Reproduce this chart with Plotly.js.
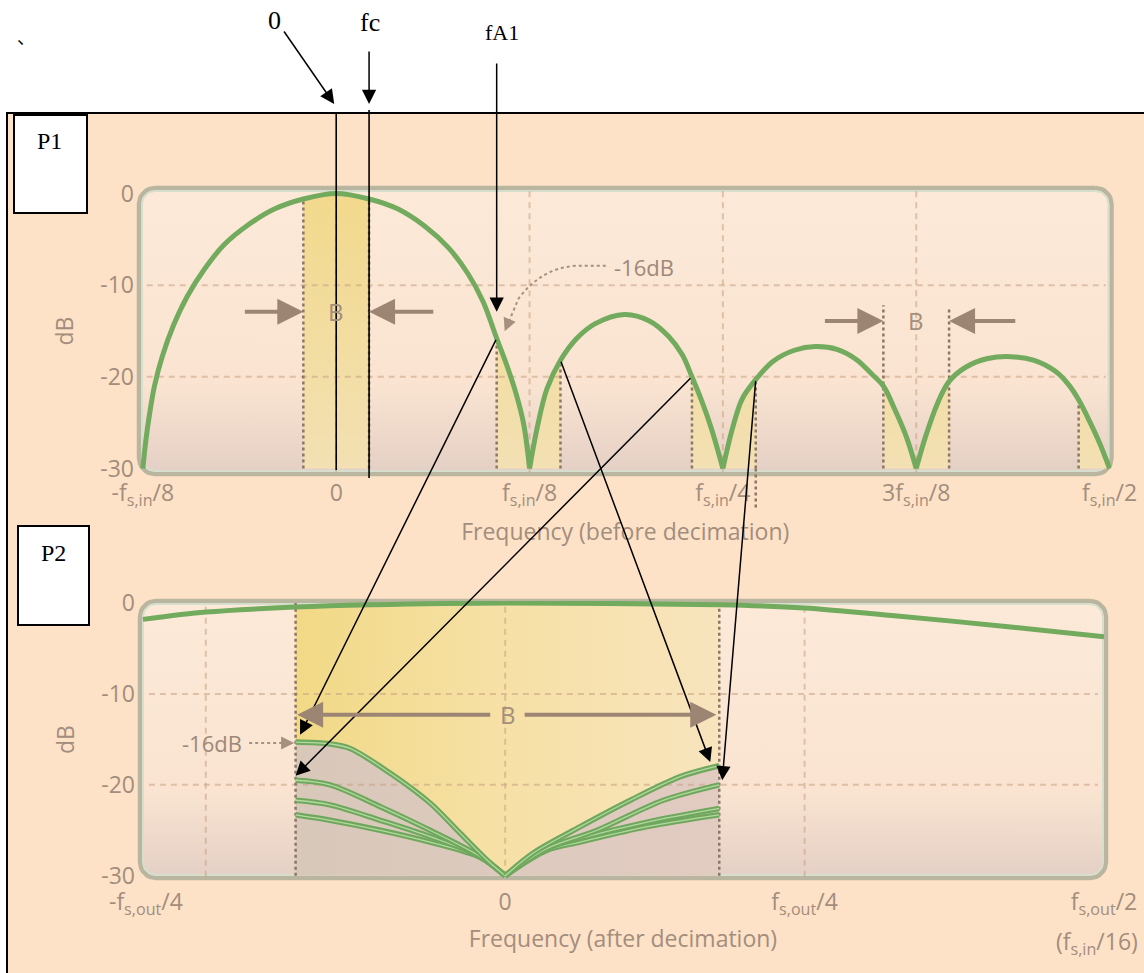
<!DOCTYPE html>
<html><head><meta charset="utf-8">
<script src="https://cdn.plot.ly/plotly-3.0.1.min.js"></script>
<style>html,body{margin:0;padding:0;background:#fff}#chart{width:1144px;height:973px}</style>
</head><body><div id="chart"></div>
<script>
// ================= DATA =================
// P1 : before decimation, x in units of f_s,in/8, y in dB
const p1TickVals = [-1, 0, 1, 2, 3, 4];
const p1TickText = ['-f<sub>s,in</sub>/8', '0', 'f<sub>s,in</sub>/8', 'f<sub>s,in</sub>/4', '3f<sub>s,in</sub>/8', 'f<sub>s,in</sub>/2'];
const dbTickVals = [0, -10, -20, -30];
const dbTickText = ['0', '-10', '-20', '-30'];
const p1GridX = [0, 1, 2, 3];
const gridDb = [-10, -20];
const p1Freq = [-1.00, -0.985, -0.965, -0.94, -0.90, -0.84, -0.77, -0.68, -0.58, -0.46, -0.32, -0.17, 0.00,
                0.17, 0.32, 0.46, 0.58, 0.68, 0.76, 0.83, 0.88, 0.93, 0.97, 1.00,
                1.04, 1.09, 1.16, 1.24, 1.34, 1.49, 1.62, 1.72, 1.79, 1.84, 1.89, 1.94, 2.00,
                2.05, 2.10, 2.17, 2.26, 2.37, 2.48, 2.59, 2.69, 2.77, 2.83, 2.89, 2.95, 3.00,
                3.05, 3.11, 3.17, 3.26, 3.37, 3.49, 3.61, 3.72, 3.79, 3.84, 3.90, 3.95, 4.00];
const p1Db =   [-30, -27, -24, -21, -17.8, -14.3, -11.2, -8.2, -5.6, -3.5, -1.7, -0.6, 0,
                -0.6, -1.7, -3.6, -5.9, -8.7, -11.8, -15.8, -18.6, -21.8, -25.2, -30,
                -25.5, -21.3, -18.2, -15.9, -14.2, -13.2, -13.9, -15.6, -17.6, -20.0, -22.6, -25.6, -30,
                -25.6, -22.4, -20.3, -18.3, -17.1, -16.7, -17.0, -18.1, -19.7, -21.0, -23.6, -26.6, -30,
                -26.4, -22.9, -20.5, -18.9, -18.0, -17.8, -18.2, -19.4, -20.9, -22.5, -25.0, -27.3, -30];
const p1BandLo = [-0.17, 0.83, 1.84, 2.83, 3.84];
const p1BandHi = [0.17, 1.16, 2.17, 3.17, 4.00];
const p1EdgeTopLo = [-0.6, -15.8, -20.0, -12.2, -22.5];
const p1EdgeTopHi = [-0.6, -18.2, -20.3, -12.5, null];
const p1BArrowDb = [-12.9, -13.9];
const p1BArrowTail = [[-0.48, 0.51], [2.52, 3.52]];
const p1BLabelX = [0, 3];

// P2 : after decimation, x in units of f_s,out/4, y in dB
const p2TickVals = [-1.2, 0, 1, 2];
const p2TickText = ['-f<sub>s,out</sub>/4', '0', 'f<sub>s,out</sub>/4', 'f<sub>s,out</sub>/2'];
const p2ExtraLabel = '(f<sub>s,in</sub>/16)';
const p2GridX = [-1, 0, 1];
const p2TopFreq = [-1.21, -1.0, -0.70, -0.45, 0, 0.715, 1.0, 1.3, 1.68, 2.0];
const p2TopDb   = [-1.8, -1.0, -0.45, -0.2, 0, -0.2, -0.55, -1.4, -2.6, -3.7];
const p2BandLo = -0.70, p2BandHi = 0.715;
const alias1Freq = [-0.70, -0.585, -0.518, -0.385, -0.251, -0.151, -0.06, 0, 0.094, 0.251, 0.418, 0.585, 0.715];
const alias1Db   = [-15.3, -15.5, -16.0, -18.7, -22.0, -25.3, -28.3, -30, -27.5, -24.6, -21.7, -19.1, -17.9];
const alias2Freq = [-0.70, -0.585, -0.417, -0.251, -0.083, 0, 0.14, 0.307, 0.528, 0.715];
const alias2Db   = [-19.5, -20.0, -22.4, -25.0, -27.9, -30, -27.0, -25.0, -21.7, -20.0];
const alias3Freq = [-0.70, -0.585, -0.417, -0.251, -0.083, 0, 0.14, 0.25, 0.474, 0.715];
const alias3Db   = [-21.7, -22.2, -23.9, -25.7, -27.9, -30, -27.0, -25.9, -24.1, -22.6];
const alias4Freq = [-0.70, -0.585, -0.417, -0.251, -0.083, 0, 0.14, 0.25, 0.474, 0.715];
const alias4Db   = [-23.3, -23.9, -25.0, -26.3, -28.0, -30, -27.2, -26.3, -24.6, -23.3];
const p2BArrowDb = -12.3;
const p2LabelDb = -15.4;

// ================= GEOMETRY / STYLE =================
const W = 1144, H = 973;
const fx = p => p / W, fy = p => 1 - p / H;
const P1 = {x0: 139, x1: 1111.5, y0: 188, y1: 474, xr: [-1.02, 4.01], yr: [-30.6, 0.6]};
const P2 = {x0: 140, x1: 1106, y0: 601, y1: 878, xr: [-1.2197, 2.0067], yr: [-30.25, 0.22]};
function toPx(P, u, d) {
  return [P.x0 + (u - P.xr[0]) / (P.xr[1] - P.xr[0]) * (P.x1 - P.x0),
          P.y1 - (d - P.yr[0]) / (P.yr[1] - P.yr[0]) * (P.y1 - P.y0)];
}
const GREEN = '#72aa5e', BROWN = '#9d8574', TXT = '#a38d7d', DOT = '#8c7666';
const GRIDC = 'rgba(200,160,128,0.55)';
const FONT = 'Open Sans, Noto Sans, sans-serif';
const SERIF = 'Liberation Serif, Times New Roman, serif';

function roundRect(x0, y0, x1, y1, r) {
  const xs = [], ys = [];
  const c = [[x1 - r, y0 + r, -90, 0], [x1 - r, y1 - r, 0, 90], [x0 + r, y1 - r, 90, 180], [x0 + r, y0 + r, 180, 270]];
  c.forEach(([cx, cy, a0, a1]) => {
    for (let k = 0; k <= 8; k++) {
      const a = (a0 + (a1 - a0) * k / 8) * Math.PI / 180;
      xs.push(cx + r * Math.cos(a)); ys.push(cy + r * Math.sin(a));
    }
  });
  xs.push(xs[0]); ys.push(ys[0]);
  return {xs, ys};
}
function splitAtFloor(xs, ys, floor) {
  const segs = []; let cur = {x: [], y: []};
  for (let i = 0; i < xs.length; i++) {
    cur.x.push(xs[i]); cur.y.push(ys[i]);
    if (ys[i] === floor && i > 0 && i < xs.length - 1) { segs.push(cur); cur = {x: [xs[i]], y: [ys[i]]}; }
  }
  segs.push(cur); return segs;
}

const traces = [];
// ---- background boxes (pixel canvas subplot) ----
[P1, P2].forEach(P => {
  const rr = roundRect(P.x0, P.y0, P.x1, P.y1, 16);
  traces.push({x: rr.xs, y: rr.ys, xaxis: 'x', yaxis: 'y', mode: 'lines', fill: 'toself', line: {width: 0},
    fillcolor: '#fae5d3',
    fillgradient: {type: 'vertical', start: P.y0, stop: P.y1, colorscale: [[0, '#fce9d8'], [0.68, '#fae4d1'], [1, '#e4cfc5']]},
    hoverinfo: 'skip', showlegend: false});
});
[P1, P2].forEach(P => {
  const o = roundRect(P.x0, P.y0, P.x1, P.y1, 16);
  traces.push({x: o.xs, y: o.ys, xaxis: 'x', yaxis: 'y', mode: 'lines', line: {color: '#bab59f', width: 4.5}, hoverinfo: 'skip', showlegend: false});
  const i = roundRect(P.x0 + 3, P.y0 + 3, P.x1 - 3, P.y1 - 3, 13);
  traces.push({x: i.xs, y: i.ys, xaxis: 'x', yaxis: 'y', mode: 'lines', line: {color: '#d6dfcd', width: 2}, hoverinfo: 'skip', showlegend: false});
});

// ---- P1 ----
p1BandLo.forEach((lo, b) => {
  const hi = p1BandHi[b];
  const bx = [], by = [];
  p1Freq.forEach((u, k) => { if (u >= lo - 1e-9 && u <= hi + 1e-9) { bx.push(u); by.push(p1Db[k]); } });
  bx.push(hi, lo); by.push(-30, -30);
  traces.push({x: bx, y: by, xaxis: 'x2', yaxis: 'y2', mode: 'lines', fill: 'toself', line: {width: 0},
    fillcolor: '#f3dd9c',
    fillgradient: {type: 'vertical', start: -30, stop: 0, colorscale: [[0, '#f3e0b3'], [1, '#f2d98c']]},
    hoverinfo: 'skip', showlegend: false});
});
(function () {
  const gx = [], gy = [];
  p1GridX.forEach(g => { gx.push(g, g, null); gy.push(-30.4, 0.4, null); });
  gridDb.forEach(g => { gx.push(-0.98, 3.98, null); gy.push(g, g, null); });
  traces.push({x: gx, y: gy, xaxis: 'x2', yaxis: 'y2', mode: 'lines', line: {color: GRIDC, width: 2, dash: '6px,5px'}, hoverinfo: 'skip', showlegend: false});
  const ex = [], ey = [];
  p1BandLo.forEach((lo, b) => {
    ex.push(lo, lo, null); ey.push(-30, p1EdgeTopLo[b], null);
    if (p1EdgeTopHi[b] !== null) { ex.push(p1BandHi[b], p1BandHi[b], null); ey.push(-30, p1EdgeTopHi[b], null); }
  });
  traces.push({x: ex, y: ey, xaxis: 'x2', yaxis: 'y2', mode: 'lines', line: {color: DOT, width: 2.5, dash: 'dot'}, hoverinfo: 'skip', showlegend: false});
})();
splitAtFloor(p1Freq, p1Db, -30).forEach(s => {
  traces.push({x: s.x, y: s.y, xaxis: 'x2', yaxis: 'y2', mode: 'lines', line: {color: GREEN, width: 5, shape: 'spline', smoothing: 1}, hoverinfo: 'skip', showlegend: false});
});

// ---- P2 ----
(function () {
  traces.push({x: [p2BandLo].concat(alias1Freq, [p2BandHi]), y: [-30].concat(alias1Db, [-30]), xaxis: 'x3', yaxis: 'y3',
    mode: 'lines', fill: 'toself', line: {width: 0}, fillcolor: '#dccabd',
    fillgradient: {type: 'horizontal', start: p2BandLo, stop: p2BandHi, colorscale: [[0, '#d8c8ba'], [1, '#e2cbc1']]},
    hoverinfo: 'skip', showlegend: false});
  const yx = [], yy = [];
  p2TopFreq.forEach((u, k) => { if (u >= p2BandLo - 1e-9 && u <= p2BandHi + 1e-9) { yx.push(u); yy.push(p2TopDb[k]); } });
  for (let k = alias1Freq.length - 1; k >= 0; k--) { yx.push(alias1Freq[k]); yy.push(alias1Db[k]); }
  traces.push({x: yx, y: yy, xaxis: 'x3', yaxis: 'y3', mode: 'lines', fill: 'toself', line: {width: 0}, fillcolor: '#f5df9f',
    fillgradient: {type: 'horizontal', start: p2BandLo, stop: p2BandHi, colorscale: [[0, '#f1d986'], [0.45, '#f6e0a4'], [1, '#f8e4bd']]},
    hoverinfo: 'skip', showlegend: false});
  const gx = [], gy = [];
  p2GridX.forEach(g => { gx.push(g, g, null); gy.push(-30.1, 0.1, null); });
  gridDb.forEach(g => { gx.push(-1.19, 1.98, null); gy.push(g, g, null); });
  traces.push({x: gx, y: gy, xaxis: 'x3', yaxis: 'y3', mode: 'lines', line: {color: GRIDC, width: 2, dash: '6px,5px'}, hoverinfo: 'skip', showlegend: false});
  traces.push({x: [p2BandLo, p2BandLo, null, p2BandHi, p2BandHi], y: [-30, 0, null, -30, 0], xaxis: 'x3', yaxis: 'y3',
    mode: 'lines', line: {color: DOT, width: 2.5, dash: 'dot'}, hoverinfo: 'skip', showlegend: false});
  traces.push({x: p2TopFreq, y: p2TopDb, xaxis: 'x3', yaxis: 'y3', mode: 'lines', line: {color: GREEN, width: 5, shape: 'spline', smoothing: 0.8}, hoverinfo: 'skip', showlegend: false});
  [[alias4Freq, alias4Db], [alias3Freq, alias3Db], [alias2Freq, alias2Db], [alias1Freq, alias1Db]].forEach(([ax, ay]) => {
    splitAtFloor(ax, ay, -30).forEach(s => {
      traces.push({x: s.x, y: s.y, xaxis: 'x3', yaxis: 'y3', mode: 'lines', line: {color: '#6fa85d', width: 5.5, shape: 'spline', smoothing: 0.9}, hoverinfo: 'skip', showlegend: false});
      traces.push({x: s.x, y: s.y, xaxis: 'x3', yaxis: 'y3', mode: 'lines', line: {color: '#b3d8a0', width: 1.3, shape: 'spline', smoothing: 0.9}, hoverinfo: 'skip', showlegend: false});
    });
  });
})();

// ================= LAYOUT =================
const tickFont = {family: FONT, size: 23, color: TXT};
const titleFont = {family: FONT, size: 23, color: TXT};
function xAx(P, tv, tt, ttl, anchor, lblOff, ttlOff) {
  return {domain: [fx(P.x0), fx(P.x1)], range: P.xr, anchor: anchor, tickmode: 'array', tickvals: tv, ticktext: tt,
    showgrid: false, zeroline: false, showline: false, ticks: '', tickfont: tickFont, ticklabelstandoff: lblOff,
    title: {text: ttl, font: titleFont, standoff: ttlOff}, fixedrange: true, automargin: false};
}
function yAx(P, anchor) {
  return {domain: [fy(P.y1), fy(P.y0)], range: P.yr, anchor: anchor, tickmode: 'array', tickvals: dbTickVals, ticktext: dbTickText,
    showgrid: false, zeroline: false, showline: false, ticks: '', tickfont: tickFont, ticklabelstandoff: 4,
    title: {text: 'dB', font: titleFont, standoff: 20}, fixedrange: true, automargin: false};
}

const shapes = [
  {type: 'rect', xref: 'paper', yref: 'paper', x0: fx(7), x1: fx(1152), y0: fy(982), y1: fy(113), fillcolor: '#fde2c7', line: {color: '#000', width: 2}, layer: 'below'},
  {type: 'rect', xref: 'paper', yref: 'paper', x0: fx(14), x1: fx(87), y0: fy(213), y1: fy(115), fillcolor: '#fff', line: {color: '#000', width: 2}, layer: 'above'},
  {type: 'rect', xref: 'paper', yref: 'paper', x0: fx(18), x1: fx(89), y0: fy(625), y1: fy(526), fillcolor: '#fff', line: {color: '#000', width: 2}, layer: 'above'}
];
const zeroPx = toPx(P1, 0, 0)[0], fcPx = toPx(P1, p1BandHi[0], 0)[0];
shapes.push({type: 'line', xref: 'paper', yref: 'paper', x0: fx(zeroPx), x1: fx(zeroPx), y0: fy(113), y1: fy(470), line: {color: '#000', width: 1.6}, layer: 'above'});
shapes.push({type: 'line', xref: 'paper', yref: 'paper', x0: fx(fcPx), x1: fx(fcPx), y0: fy(110), y1: fy(478), line: {color: '#000', width: 1.6}, layer: 'above'});
const f4px = toPx(P1, p1BandHi[2], -30);
shapes.push({type: 'line', xref: 'paper', yref: 'paper', x0: fx(f4px[0]), x1: fx(f4px[0]), y0: fy(f4px[1]), y1: fy(508), line: {color: DOT, width: 2.5, dash: 'dot'}, layer: 'above'});
const p1Lbl = toPx(P1, 1.57, -8.0);
const p1Pt = toPx(P1, p1BandLo[1], p1EdgeTopLo[1]);
shapes.push({type: 'path', xref: 'paper', yref: 'paper', layer: 'above', line: {color: '#a89080', width: 2, dash: 'dot'},
  path: 'M ' + fx(p1Lbl[0] - 34).toFixed(5) + ',' + fy(p1Lbl[1] - 1).toFixed(5) +
        ' L ' + fx(p1Lbl[0] - 64).toFixed(5) + ',' + fy(p1Lbl[1] - 1).toFixed(5) +
        ' Q ' + fx(p1Pt[0] + 45).toFixed(5) + ',' + fy(p1Lbl[1] + 1).toFixed(5) + ' ' + fx(p1Pt[0] + 22).toFixed(5) + ',' + fy(p1Pt[1] - 40).toFixed(5) +
        ' L ' + fx(p1Pt[0] + 11).toFixed(5) + ',' + fy(p1Pt[1] - 14).toFixed(5)});
shapes.push({type: 'line', xref: 'x3', yref: 'y3', x0: -0.855, x1: -0.73, y0: p2LabelDb, y1: p2LabelDb, line: {color: '#a89080', width: 2, dash: 'dot'}, layer: 'above'});

const annotations = [];
function txt(x, y, t, size, font, color, extra) {
  annotations.push(Object.assign({xref: 'paper', yref: 'paper', x: fx(x), y: fy(y), text: t, showarrow: false,
    xanchor: 'center', yanchor: 'middle', font: {family: font, size: size, color: color}}, extra || {}));
}
function arrowPx(tail, head, o) {
  annotations.push(Object.assign({xref: 'paper', yref: 'paper', x: fx(head[0]), y: fy(head[1]),
    ax: tail[0] - head[0], ay: tail[1] - head[1], axref: 'pixel', ayref: 'pixel', text: '', showarrow: true,
    arrowhead: 2, arrowsize: 1.9, arrowwidth: 1.5, arrowcolor: '#000', standoff: 0}, o || {}));
}
// black labels
txt(274, 20, '0', 26, SERIF, '#000');
txt(fcPx + 1, 23, 'fc', 26, SERIF, '#000');
txt(p1Pt[0] + 5, 32, 'fA1', 22, SERIF, '#000');
txt(49, 141, 'P1', 24, SERIF, '#000');
txt(53, 553, 'P2', 24, SERIF, '#000');
txt(26, 36, '、', 18, 'Noto Sans CJK SC, sans-serif', '#000');
txt(1097, 942, p2ExtraLabel, 23, FONT, TXT);
// black arrows
arrowPx([283, 30], [zeroPx - 2, 104]);
arrowPx([fcPx, 50], [fcPx, 104]);
arrowPx([p1Pt[0], 62], [p1Pt[0], toPx(P1, 0, -12.9)[1]]);
arrowPx(toPx(P1, p1BandLo[1], p1EdgeTopLo[1]), toPx(P2, p2BandLo + 0.015, alias1Db[0] + 0.8));
arrowPx(toPx(P1, p1BandLo[2], p1EdgeTopLo[2]), toPx(P2, p2BandLo, alias2Db[0] + 0.5));
arrowPx(toPx(P1, p1BandHi[1], p1EdgeTopHi[1]), toPx(P2, p2BandHi - 0.03, alias1Db[alias1Db.length - 1] + 0.4));
arrowPx(toPx(P1, p1BandHi[2], p1EdgeTopHi[2]), toPx(P2, p2BandHi + 0.01, alias2Db[alias2Db.length - 1] + 0.5));
// brown B arrows in P1
p1BArrowDb.forEach((d, i) => {
  const los = [p1BandLo[0], p1BandLo[3]][i], his = [p1BandHi[0], p1BandHi[3]][i];
  [[los, p1BArrowTail[i][0]], [his, p1BArrowTail[i][1]]].forEach(([hx, tx]) => {
    annotations.push({xref: 'x2', yref: 'y2', axref: 'x2', ayref: 'y2', x: hx, y: d, ax: tx, ay: d, text: '', showarrow: true,
      arrowhead: 2, arrowsize: 1.3, arrowwidth: 4, arrowcolor: BROWN, standoff: 0});
  });
  annotations.push({xref: 'x2', yref: 'y2', x: p1BLabelX[i], y: d, text: 'B', showarrow: false, font: {family: FONT, size: 24, color: '#a48e7c'}});
});
// P2 B double arrow
annotations.push({xref: 'x3', yref: 'y3', axref: 'x3', ayref: 'y3', x: p2BandLo + 0.005, y: p2BArrowDb, ax: -0.045, ay: p2BArrowDb, text: '', showarrow: true,
  arrowhead: 2, arrowsize: 1.3, arrowwidth: 4, arrowcolor: BROWN, standoff: 0});
annotations.push({xref: 'x3', yref: 'y3', axref: 'x3', ayref: 'y3', x: p2BandHi - 0.01, y: p2BArrowDb, ax: 0.06, ay: p2BArrowDb, text: '', showarrow: true,
  arrowhead: 2, arrowsize: 1.3, arrowwidth: 4, arrowcolor: BROWN, standoff: 0});
annotations.push({xref: 'x3', yref: 'y3', x: 0.008, y: p2BArrowDb, text: 'B', showarrow: false, font: {family: FONT, size: 24, color: '#a48e7c'}});
// -16dB labels
annotations.push({xref: 'x2', yref: 'y2', x: 1.59, y: -8.0, text: '-16dB', showarrow: false, font: {family: FONT, size: 22, color: '#9f8878'}});
annotations.push({xref: 'paper', yref: 'paper', x: fx(p1Pt[0] + 8), y: fy(p1Pt[1] - 7), ax: 5, ay: -12, axref: 'pixel', ayref: 'pixel', text: '', showarrow: true,
  arrowhead: 2, arrowsize: 1.3, arrowwidth: 2, arrowcolor: '#a89080', standoff: 0});
annotations.push({xref: 'x3', yref: 'y3', x: -0.98, y: p2LabelDb, text: '-16dB', showarrow: false, font: {family: FONT, size: 22, color: '#9f8878'}});
annotations.push({xref: 'x3', yref: 'y3', axref: 'x3', ayref: 'y3', x: p2BandLo - 0.005, y: p2LabelDb, ax: -0.74, ay: p2LabelDb, text: '', showarrow: true,
  arrowhead: 2, arrowsize: 1.3, arrowwidth: 2, arrowcolor: '#a89080', standoff: 0});

const layout = {
  width: W, height: H, margin: {l: 0, r: 0, t: 0, b: 0, pad: 0},
  paper_bgcolor: '#ffffff', plot_bgcolor: 'rgba(0,0,0,0)', showlegend: false, hovermode: false,
  xaxis: {domain: [0, 1], range: [0, W], visible: false, fixedrange: true},
  yaxis: {domain: [0, 1], range: [H, 0], visible: false, fixedrange: true},
  xaxis2: xAx(P1, p1TickVals, p1TickText, 'Frequency (before decimation)', 'y2', 3, 14),
  yaxis2: yAx(P1, 'x2'),
  xaxis3: xAx(P2, p2TickVals, p2TickText, 'Frequency (after decimation)', 'y3', 8, 12),
  yaxis3: yAx(P2, 'x3'),
  shapes: shapes, annotations: annotations
};
Plotly.newPlot('chart', traces, layout, {displayModeBar: false, staticPlot: true});
</script></body></html>
